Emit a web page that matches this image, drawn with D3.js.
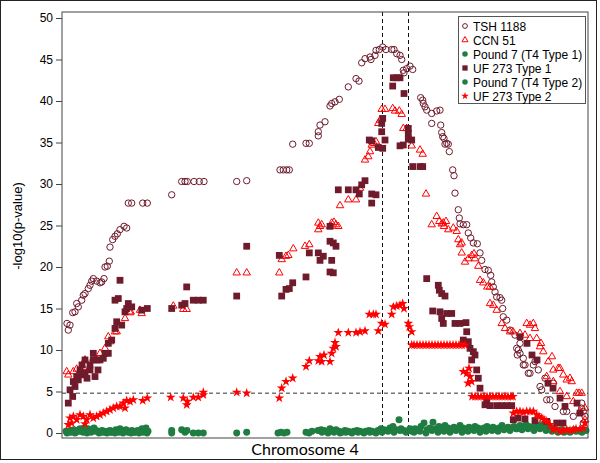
<!DOCTYPE html>
<html><head><meta charset="utf-8">
<script src="https://cdn.jsdelivr.net/npm/d3@7"></script>
<style>body{margin:0;background:#fff}svg{display:block}</style>
</head><body>
<svg id="c" width="600" height="463"></svg>
<script>
// ---------------- data ----------------
const seriesNames = ["TSH 1188","CCN 51","Pound 7 (T4 Type 1)","UF 273 Type 1","Pound 7 (T4 Type 2)","UF 273 Type 2"];
const yTicks = [0,5,10,15,20,25,30,35,40,45,50];
const xLabel = "Chromosome 4";
const yLabel = "-log10(p-value)";
const threshold = 4.8;
const markerLines = [32.05, 34.65];

const tsh1188 = [[0.50,13.2],[0.63,12.4],[0.80,13.0],[1.07,14.5],[1.30,14.6],[1.47,15.6],[1.63,15.2],[1.97,16.0],[2.13,16.6],[2.30,16.8],[2.63,17.4],[2.80,17.8],[2.97,18.3],[3.13,18.6],[3.47,18.3],[3.80,18.1],[3.97,18.2],[4.20,18.6],[4.30,20.0],[4.53,20.1],[4.73,20.7],[4.80,22.4],[5.07,23.3],[5.30,23.7],[5.53,24.0],[5.80,24.5],[6.20,24.9],[6.47,24.7],[6.63,27.7],[6.97,27.7],[8.07,27.7],[8.53,27.7],[10.97,28.7],[11.97,30.3],[12.30,30.3],[12.53,30.3],[13.20,30.3],[13.73,30.3],[14.20,30.3],[17.47,30.3],[18.47,30.4],[21.80,31.7],[22.13,31.7],[22.47,31.7],[22.73,31.7],[23.07,34.8],[24.40,34.9],[24.73,34.9],[25.63,36.3],[25.63,35.8],[25.80,37.1],[26.30,37.5],[26.80,39.4],[26.97,39.7],[27.30,39.9],[27.73,40.2],[28.63,41.7],[29.40,42.7],[29.70,42.4],[29.97,44.6],[30.30,45.1],[30.80,45.3],[30.90,45.0],[31.30,45.5],[31.40,46.1],[31.73,46.2],[32.07,46.5],[32.40,46.2],[32.97,46.2],[33.20,46.2],[33.47,45.7],[33.80,45.5],[33.97,45.0],[34.13,43.7],[34.20,43.4],[34.47,43.9],[34.80,44.2],[35.07,43.8],[35.87,40.4],[36.07,40.1],[36.13,39.7],[36.30,39.3],[36.47,38.9],[36.97,38.5],[37.47,38.8],[37.80,38.9],[36.97,37.3],[37.87,37.1],[37.97,36.2],[38.07,35.7],[38.20,35.5],[38.30,34.8],[38.47,34.9],[38.63,34.8],[38.73,33.9],[39.07,31.7],[39.20,31.0],[39.30,28.9],[39.63,26.9],[39.73,25.9],[39.80,25.2],[40.13,25.1],[40.47,25.1],[40.63,24.1],[40.87,23.5],[41.13,22.9],[41.53,22.8],[41.80,21.7],[41.97,20.8],[42.30,19.7],[42.63,19.6],[42.87,19.0],[42.97,18.2],[43.13,17.6],[43.30,17.0],[43.47,16.4],[43.80,16.3],[43.97,16.0],[44.07,15.0],[44.13,14.0],[44.47,13.6],[44.80,12.4],[45.30,11.8],[45.47,10.2],[45.63,10.0],[45.80,9.6],[45.53,9.4],[45.80,10.8],[46.13,9.0],[46.13,8.2],[46.30,8.2],[46.63,7.2],[46.80,7.2],[47.13,8.2],[47.30,8.6],[47.63,7.6],[47.80,5.6],[47.97,5.2],[48.30,6.6],[48.47,4.0],[48.80,4.0],[49.13,6.0],[49.30,3.2],[50.13,2.6],[50.47,2.6],[51.13,2.0],[51.97,3.6],[52.13,2.6],[52.30,2.0],[52.13,1.2],[51.97,3.0]];

const ccn51 = [[0.47,7.4],[0.63,7.0],[1.13,7.4],[1.47,7.7],[2.13,7.9],[2.30,8.8],[3.13,9.0],[3.47,8.8],[3.80,9.6],[4.30,10.2],[4.63,11.6],[4.80,11.0],[5.30,12.2],[5.47,12.2],[6.30,13.8],[6.80,14.5],[6.87,14.6],[7.80,14.8],[7.97,14.4],[11.13,15.3],[12.13,14.9],[12.47,14.9],[17.47,19.3],[18.47,19.3],[21.73,19.3],[21.97,20.9],[22.40,21.3],[22.63,21.4],[23.13,22.2],[24.30,22.5],[24.73,22.7],[25.63,25.3],[25.80,24.9],[25.63,24.5],[25.97,25.1],[26.80,24.9],[26.97,25.3],[27.20,25.4],[27.40,25.1],[27.63,24.9],[27.80,27.4],[28.63,28.1],[29.40,28.1],[29.80,29.5],[30.30,32.9],[30.63,33.3],[30.80,33.9],[30.97,34.7],[31.20,34.9],[31.40,35.1],[31.63,37.3],[31.80,37.7],[31.97,39.0],[32.30,39.0],[33.07,39.1],[33.30,38.8],[33.73,38.8],[33.97,38.4],[34.13,36.7],[34.47,36.7],[34.97,34.6],[35.80,34.1],[36.07,33.6],[36.40,28.8],[36.97,25.1],[37.47,26.1],[37.73,25.5],[37.97,25.2],[38.13,25.3],[38.20,24.9],[38.40,25.5],[38.63,24.5],[39.13,24.7],[39.47,24.3],[39.63,23.3],[39.80,22.7],[39.97,22.9],[39.97,21.7],[40.30,20.6],[40.63,21.0],[40.97,21.4],[41.20,21.6],[41.30,21.0],[41.63,20.1],[41.80,18.4],[42.13,18.1],[42.53,17.6],[42.80,17.6],[42.80,15.6],[43.13,15.4],[43.47,14.8],[43.97,13.2],[44.30,12.6],[44.80,12.2],[45.10,12.2],[45.80,12.0],[46.30,11.8],[46.47,13.2],[46.80,13.0],[46.80,11.4],[47.13,13.2],[47.30,12.6],[47.47,11.4],[47.80,10.4],[47.90,10.8],[48.13,9.8],[48.63,8.6],[49.00,9.2],[49.13,7.6],[49.63,7.8],[49.80,7.8],[50.13,7.0],[50.47,6.4],[50.80,6.6],[50.97,6.2],[51.47,4.8],[51.70,4.8],[51.97,4.8],[52.30,3.0],[48.47,6.8],[49.13,6.2],[49.80,5.0],[50.47,4.4],[51.13,3.8],[51.80,2.6],[52.30,1.6]];

const pound7Type1 = [[0.4,0.2],[0.6,0.1],[0.8,0.3],[1.0,0.2],[1.2,0.4],[1.4,0.1],[1.6,0.3],[1.8,0.5],[2.0,0.2],[2.2,0.6],[2.4,0.3],[2.6,0.5],[2.8,0.2],[3.0,0.4],[3.2,0.6],[3.4,0.3],[3.6,0.2],[3.8,0.1],[4.0,0.3],[4.2,0.2],[4.4,0.1],[4.6,0.2],[4.8,0.3],[5.0,0.1],[5.2,0.2],[5.4,0.4],[5.6,0.3],[5.8,0.5],[6.0,0.3],[6.2,0.2],[6.4,0.4],[6.6,0.1],[6.8,0.2],[7.0,0.3],[7.2,0.1],[7.4,0.2],[7.6,0.3],[7.8,0.2],[8.0,0.5],[8.2,0.3],[8.4,0.6],[8.6,0.2],[10.97,0.3],[10.97,0.0],[11.97,0.4],[12.3,0.1],[12.5,0.3],[13.13,0.0],[13.63,0.0],[14.13,0.0],[17.47,0.0],[18.47,0.1],[21.6,0.0],[21.9,0.1],[22.2,0.0],[22.5,0.1],[24.4,0.1],[24.7,0.0],[25.0,0.2],[25.6,0.3],[25.9,0.4],[26.2,0.3],[26.5,0.2],[26.8,0.5],[27.1,0.3],[27.4,0.4],[27.7,0.2],[28.0,0.1],[28.3,0.3],[28.6,0.2],[28.9,0.1],[29.2,0.2],[29.5,0.3],[29.8,0.2],[30.1,0.1],[30.4,0.2],[30.7,0.3],[31.0,0.2],[31.3,0.1],[31.6,0.3],[31.9,0.5],[32.2,0.4],[32.5,0.3],[32.8,0.6],[33.1,0.8],[33.4,0.4],[33.7,1.6],[33.9,0.5],[34.2,0.3],[34.5,0.2],[34.8,0.5],[35.0,0.2],[35.3,0.5],[35.6,0.3],[35.9,0.8],[36.2,1.2],[36.5,0.4],[36.8,0.6],[37.1,1.3],[37.4,0.5],[37.7,0.8],[38.0,0.4],[38.3,0.9],[38.6,0.6],[38.9,0.3],[39.2,0.7],[39.5,0.5],[39.8,0.9],[40.1,0.6],[40.4,0.4],[40.7,0.7],[41.0,0.5],[41.3,0.8],[41.6,0.6],[41.9,0.4],[42.2,0.6],[42.5,0.8],[42.8,0.5],[43.1,0.7],[43.4,0.4],[43.7,0.6],[44.0,0.9],[44.3,0.5],[44.6,0.7],[44.9,0.6],[45.2,0.8],[45.5,0.5],[45.8,0.9],[46.1,0.7],[46.4,1.0],[46.7,0.8],[47.0,0.6],[47.3,0.9],[47.6,0.7],[47.9,1.0],[48.2,0.8],[48.5,0.6],[48.8,0.7],[49.1,0.5],[49.4,0.4],[49.7,0.3],[50.0,0.4],[50.3,0.2],[50.6,0.3],[50.9,0.2],[51.2,0.4],[51.5,0.3],[51.8,0.2],[52.1,0.4],[52.4,0.3]];

const uf273Type1 = [[0.63,3.6],[0.80,5.2],[1.07,4.4],[1.13,6.2],[1.30,5.6],[1.47,6.8],[1.63,6.4],[1.80,7.6],[1.97,7.0],[2.00,8.2],[2.30,7.2],[2.30,8.8],[2.50,6.6],[2.80,7.6],[2.80,8.2],[3.13,8.8],[3.13,9.6],[3.30,6.8],[3.47,8.8],[3.60,7.6],[3.80,8.8],[4.13,9.0],[4.30,9.6],[4.63,9.6],[4.63,10.8],[4.97,11.2],[5.30,12.6],[5.47,13.4],[5.97,13.0],[6.30,14.6],[6.47,15.0],[6.63,15.6],[6.97,15.2],[5.30,16.0],[5.63,16.2],[5.80,18.4],[7.97,14.8],[8.53,15.0],[10.97,15.0],[11.97,15.4],[12.30,15.6],[12.47,17.6],[13.13,16.0],[13.63,16.0],[14.13,16.0],[17.47,16.5],[18.47,22.5],[21.73,21.4],[21.97,16.5],[22.40,17.3],[22.73,17.4],[23.07,18.1],[24.40,18.8],[24.73,21.7],[25.63,21.7],[25.80,20.8],[26.13,21.3],[26.80,19.4],[26.97,20.8],[27.13,19.3],[26.80,23.1],[27.13,22.9],[27.40,22.5],[26.80,24.9],[27.63,29.3],[28.63,29.3],[29.40,29.3],[29.73,28.8],[29.97,29.9],[30.30,30.4],[30.97,28.8],[31.40,28.7],[30.97,27.7],[30.73,35.3],[30.97,35.2],[31.63,34.4],[32.07,34.3],[32.30,35.3],[31.97,36.3],[31.97,37.3],[32.07,37.9],[33.13,42.8],[33.47,42.8],[33.80,42.8],[33.07,41.8],[34.20,40.9],[34.63,36.7],[34.63,36.1],[34.63,35.4],[34.97,35.3],[33.80,34.6],[34.13,34.7],[35.07,32.1],[35.80,32.1],[36.07,32.1],[36.47,18.6],[37.63,17.8],[37.73,17.2],[37.97,16.8],[38.30,16.5],[37.07,14.7],[37.80,14.6],[37.97,13.8],[38.13,13.2],[38.47,14.4],[38.97,14.4],[39.30,13.2],[39.80,13.2],[40.40,13.3],[40.47,12.2],[40.13,11.2],[40.63,11.0],[40.80,10.2],[41.13,9.8],[40.97,8.8],[41.30,9.4],[41.47,7.6],[41.63,6.6],[41.80,5.4],[42.47,4.0],[42.30,3.4],[42.80,3.3],[43.47,3.3],[44.00,3.3],[44.50,3.3],[44.97,3.3],[45.13,1.6],[45.60,1.8],[46.30,1.7],[47.30,1.5],[48.47,1.4],[49.47,1.2],[50.10,1.2],[45.80,11.6],[46.50,10.8],[47.00,9.4],[47.50,8.8],[48.60,6.0],[49.10,5.4],[49.80,4.2],[50.30,3.2],[51.50,3.6],[51.80,2.4]];

const pound7Type2 = [[0.5,0.0],[0.9,0.1],[1.3,0.0],[1.7,0.2],[2.1,0.1],[2.5,0.0],[2.9,0.1],[3.3,0.2],[3.7,0.0],[4.1,0.1],[4.5,0.0],[4.9,0.1],[5.3,0.0],[5.7,0.1],[6.1,0.0],[6.5,0.2],[6.9,0.0],[7.3,0.1],[7.7,0.0],[8.1,0.1],[8.5,0.0],[26.0,0.1],[26.6,0.0],[27.2,0.1],[27.8,0.0],[28.4,0.1],[29.0,0.0],[29.6,0.1],[30.2,0.0],[30.8,0.1],[31.4,0.0],[32.0,0.1],[32.6,0.2],[33.2,0.1],[33.8,0.3],[34.4,0.1],[35.2,0.1],[35.8,0.2],[36.4,0.0],[37.0,0.3],[37.6,0.1],[38.2,0.2],[38.8,0.1],[39.4,0.3],[40.0,0.1],[40.6,0.2],[41.2,0.3],[41.8,0.1],[42.4,0.2],[43.0,0.3],[43.6,0.2],[44.2,0.4],[44.8,0.3],[45.4,0.5],[46.0,0.4],[46.6,0.5],[47.2,0.3],[47.8,0.5],[48.4,0.3],[49.0,0.2],[49.6,0.1],[50.2,0.1],[50.8,0.1],[51.4,0.2],[52.0,0.1]];

const uf273Type2 = [[0.63,1.0],[0.80,1.8],[0.97,1.2],[1.13,2.0],[1.47,1.6],[1.80,2.2],[2.13,2.0],[2.30,1.1],[2.47,1.6],[2.80,2.2],[3.13,1.8],[3.47,2.0],[3.80,2.2],[4.13,2.4],[4.47,2.6],[4.80,2.8],[5.13,3.0],[5.47,3.2],[5.80,3.2],[6.13,3.6],[6.30,3.0],[6.47,3.9],[6.80,3.8],[7.13,4.0],[8.07,3.9],[8.53,4.2],[10.87,4.3],[12.13,4.2],[12.47,3.4],[12.53,3.8],[13.13,4.3],[13.63,4.3],[14.13,4.6],[14.13,4.9],[17.47,4.9],[18.47,4.8],[21.73,4.2],[21.97,5.4],[22.40,6.2],[23.07,6.6],[24.40,8.0],[24.73,8.7],[25.63,8.7],[25.80,9.2],[25.97,8.6],[26.20,9.4],[26.80,8.6],[26.97,9.6],[27.13,10.2],[27.30,10.9],[27.40,10.4],[27.63,12.1],[28.63,12.1],[29.40,12.1],[29.80,12.2],[30.30,12.3],[30.73,14.3],[31.13,14.3],[31.40,14.3],[31.63,12.3],[31.97,13.2],[32.30,13.1],[32.97,14.3],[33.13,15.2],[33.47,15.3],[33.80,15.4],[34.07,15.6],[34.20,15.0],[34.63,13.2],[34.73,12.8],[34.97,12.2],[34.97,10.6],[35.2,10.6],[35.5,10.6],[35.8,10.6],[36.1,10.6],[36.4,10.6],[36.7,10.6],[37.0,10.6],[37.3,10.6],[37.6,10.6],[37.9,10.6],[38.2,10.6],[38.5,10.6],[38.8,10.6],[39.1,10.6],[39.4,10.6],[39.7,10.6],[40.0,10.6],[40.3,10.6],[40.13,7.4],[40.47,7.2],[40.80,6.8],[40.97,6.2],[40.60,6.0],[40.70,7.8],[41.0,4.4],[41.3,4.4],[41.6,4.4],[41.9,4.4],[42.2,4.4],[42.5,4.4],[42.8,4.4],[43.1,4.4],[43.4,4.4],[43.7,4.4],[44.0,4.4],[44.3,4.4],[44.6,4.4],[44.9,4.4],[45.1,4.4],[45.13,2.4],[45.47,2.6],[45.80,2.6],[46.10,2.5],[46.47,2.6],[46.80,2.6],[47.13,2.6],[47.47,2.2],[47.70,2.0],[47.97,1.8],[48.20,1.6],[48.47,1.4],[48.80,1.0],[49.13,0.4],[49.40,0.5],[49.80,0.2],[50.10,0.3],[50.47,0.4],[50.80,0.3],[51.13,0.4],[51.40,0.5],[51.80,0.5],[52.13,0.6],[52.30,1.2]];

// ---------------- drawing ----------------
const maroon = "#6f1b2c", red = "#ff0000", green = "#1f7d41";
const svg = d3.select("#c");
const frame = {l:62, t:12, r:588, b:438};
const x = d3.scaleLinear().domain([0,52.6]).range([frame.l, frame.r]);
const y = d3.scaleLinear().domain([0,50]).range([433,18]);
const font = "'Liberation Sans', Arial, sans-serif";

svg.append("rect").attr("x",0.5).attr("y",0.5).attr("width",596).attr("height",459)
  .attr("fill","#fff").attr("stroke","#222").attr("stroke-width",1);

// reference lines
svg.append("line").attr("x1",frame.l).attr("x2",frame.r).attr("y1",y(threshold)).attr("y2",y(threshold))
  .attr("stroke","#333").attr("stroke-dasharray","4,3");
svg.selectAll("line.v").data(markerLines).join("line").attr("class","v")
  .attr("x1",d=>x(d)).attr("x2",d=>x(d)).attr("y1",frame.t).attr("y2",frame.b)
  .attr("stroke","#111").attr("stroke-dasharray","4,3");

const sym = {
  circle: d3.symbol().type(d3.symbolCircle).size(32),
  tri: d3.symbol().type(d3.symbolTriangle).size(24),
  square: d3.symbol().type(d3.symbolSquare).size(46),
  dot: d3.symbol().type(d3.symbolCircle).size(38),
  star: d3.symbol().type(d3.symbolStar).size(30)
};
const styles = [
  {data:tsh1188, path:sym.circle, fill:"none", stroke:maroon, sw:1},
  {data:ccn51, path:sym.tri, fill:"none", stroke:red, sw:1},
  {data:pound7Type1, path:sym.dot, fill:green, stroke:"none", sw:0},
  {data:uf273Type1, path:sym.square, fill:maroon, stroke:"none", sw:0},
  {data:pound7Type2, path:sym.dot, fill:green, stroke:"none", sw:0},
  {data:uf273Type2, path:sym.star, fill:red, stroke:"none", sw:0}
];
const g = svg.append("g");
styles.forEach((s,i)=>{
  g.append("g").selectAll("path").data(s.data).join("path")
    .attr("d", s.path())
    .attr("transform", d=>`translate(${x(d[0])},${y(d[1])})`)
    .attr("fill", s.fill).attr("stroke", s.stroke).attr("stroke-width", s.sw);
});

// frame
svg.append("rect").attr("x",frame.l).attr("y",frame.t).attr("width",frame.r-frame.l).attr("height",frame.b-frame.t)
  .attr("fill","none").attr("stroke","#444").attr("stroke-width",1);

// y axis
const ya = svg.append("g").attr("transform",`translate(${frame.l},0)`)
  .call(d3.axisLeft(y).tickValues(yTicks).tickSize(6).tickSizeOuter(0).tickPadding(3));
ya.select(".domain").remove();
ya.selectAll("line").attr("stroke","#444");
ya.selectAll("text").attr("font-family",font).attr("font-size",12).attr("fill","#000");

svg.append("text").attr("transform","translate(22,226) rotate(-90)").attr("text-anchor","middle")
  .attr("font-family",font).attr("font-size",13).text(yLabel);
svg.append("text").attr("x",305).attr("y",455).attr("text-anchor","middle")
  .attr("font-family","Lato, 'Open Sans', sans-serif").attr("font-size",16).text(xLabel);

// legend
const lg = svg.append("g").attr("transform","translate(458,16)");
lg.append("rect").attr("x",0.5).attr("y",0.5).attr("width",127).attr("height",87)
  .attr("fill","#fff").attr("stroke","#555");
const legSym = [
  d3.symbol().type(d3.symbolCircle).size(18),
  d3.symbol().type(d3.symbolTriangle).size(16),
  d3.symbol().type(d3.symbolCircle).size(24),
  d3.symbol().type(d3.symbolSquare).size(28),
  d3.symbol().type(d3.symbolCircle).size(24),
  d3.symbol().type(d3.symbolStar).size(18)
];
seriesNames.forEach((n,i)=>{
  const yy = 10 + i*14;
  lg.append("path").attr("d",legSym[i]()).attr("transform",`translate(7,${yy})`)
    .attr("fill",styles[i].fill).attr("stroke",styles[i].stroke).attr("stroke-width",styles[i].sw);
  lg.append("text").attr("x",15).attr("y",yy+4.5).attr("font-family",font).attr("font-size",12).text(n);
});
</script>
</body></html>
